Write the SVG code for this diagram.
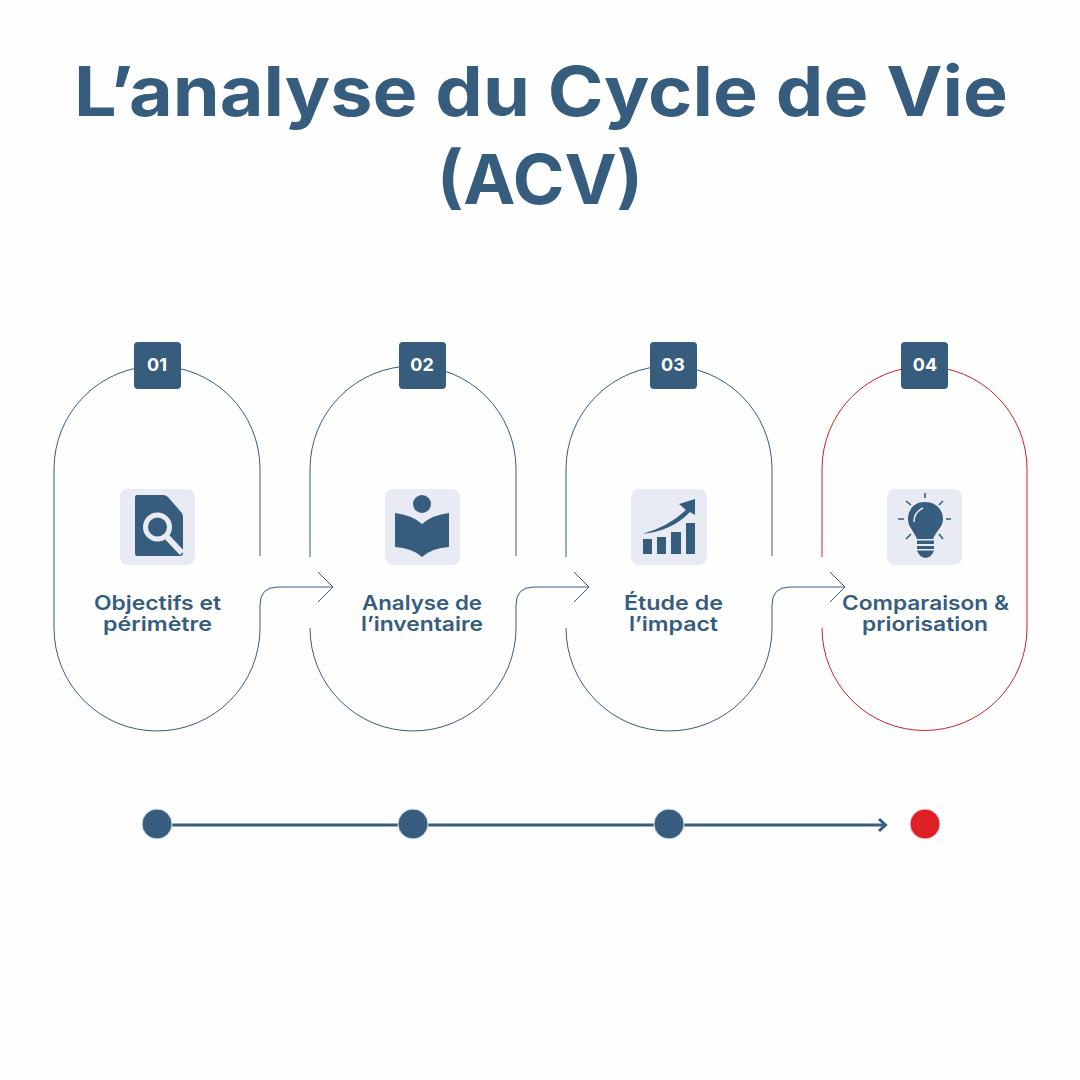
<svg xmlns="http://www.w3.org/2000/svg" width="1080" height="1080" viewBox="0 0 1080 1080">
<style>
text{font-family:"Inter","Liberation Sans",sans-serif;text-anchor:middle;fill:#365d7e}
.title{font-size:69px;font-weight:700}
.label{font-size:20px;font-weight:600}
.num{font-size:18px;font-weight:700;fill:#fff}
.badge{fill:#365d7e}
.tile{fill:#e8ebf4}
.ic{fill:#365d7e}
.line{fill:none;stroke:#365d7e;stroke-width:1}
.red{fill:none;stroke:#c8232c;stroke-width:1}
.ray{stroke:#365d7e;stroke-width:1.6;fill:none}
</style>
<rect width="1080" height="1080" fill="#fefefe"/>
<g id="title">
<text class="title" x="541" y="116" textLength="934" lengthAdjust="spacingAndGlyphs">L’analyse du Cycle de Vie</text>
<text class="title" x="540" y="204" textLength="206" lengthAdjust="spacingAndGlyphs">(ACV)</text>
</g>
<g id="connectors">
<path class="line" d="M260 556V469A103 103 0 0 0 54 469V628A103 103 0 0 0 260 628V605Q260 587 278 587H332M318 572L333 587L318 602"/>
<path class="line" d="M516 556V469A103 103 0 0 0 310 469V557M310 628A103 103 0 0 0 516 628V605Q516 587 534 587H588M574 572L589 587L574 602"/>
<path class="line" d="M772 556V469A103 103 0 0 0 566 469V557M566 628A103 103 0 0 0 772 628V605Q772 587 790 587H844M830 572L845 587L830 602"/>
<path class="red" d="M822 557V469A102.500 102.500 0 0 1 1027 469V628A102.500 102.500 0 0 1 822 628"/>
<path d="M157 825H885" stroke="#365d7e" stroke-width="3" fill="none"/>
<path d="M879 819L885.500 825L879 831" stroke="#365d7e" stroke-width="3" fill="none"/>
</g>
<g id="step1">
<rect class="badge" x="134" y="342" width="47" height="47" rx="4"/>
<text class="num" x="157" y="371">01</text>
<rect class="tile" x="120" y="489" width="75" height="76" rx="8"/>
<path class="ic" d="M137 495H163Q166 495 168 497L181 512Q183 514 183 517V553Q183 556 180 556H137Q135 556 135 553V498Q135 495 137 495Z"/>
<circle cx="157.500" cy="527" r="12" fill="#365d7e" stroke="#e8ebf4" stroke-width="5"/>
<path d="M167 537L182 553" stroke="#e8ebf4" stroke-width="6" fill="none"/>
<text class="label"><tspan x="157.500" y="610" textLength="127" lengthAdjust="spacingAndGlyphs">Objectifs et</tspan><tspan x="157.500" y="631" textLength="109" lengthAdjust="spacingAndGlyphs">périmètre</tspan></text>
</g>
<g id="step2">
<rect class="badge" x="399" y="342" width="47" height="47" rx="4"/>
<text class="num" x="422" y="371">02</text>
<rect class="tile" x="385" y="489" width="75" height="76" rx="8"/>
<circle class="ic" cx="422" cy="504" r="9"/>
<path class="ic" d="M395 513Q412 515 422 524Q432 515 449 513V547Q432 548 422 557Q412 548 395 547Z"/>
<text class="label"><tspan x="422" y="610" textLength="120" lengthAdjust="spacingAndGlyphs">Analyse de</tspan><tspan x="422" y="631" textLength="122" lengthAdjust="spacingAndGlyphs">l’inventaire</tspan></text>
</g>
<g id="step3">
<rect class="badge" x="650" y="342" width="47" height="47" rx="4"/>
<text class="num" x="673" y="371">03</text>
<rect class="tile" x="631" y="489" width="76" height="76" rx="8"/>
<path class="ic" d="M643 539V554H652V539ZM657 537V554H666V537ZM671 532V554H681V532ZM686 523V554H695V523Z"/>
<path class="ic" d="M642 534Q668 527 686 510L679 504L695 499L695 515L690 512Q672 531 642 534Z"/>
<text class="label"><tspan x="673.500" y="610" textLength="99" lengthAdjust="spacingAndGlyphs">Étude de</tspan><tspan x="673.500" y="631" textLength="89" lengthAdjust="spacingAndGlyphs">l’impact</tspan></text>
</g>
<g id="step4">
<rect class="badge" x="901" y="342" width="47" height="47" rx="4"/>
<text class="num" x="925" y="371">04</text>
<rect class="tile" x="887" y="489" width="75" height="76" rx="8"/>
<path class="ic" d="M925 502C913 502 908 511 908 519C908 527 914 531 917 539H933C936 531 943 527 943 519C943 511 937 502 925 502Z"/>
<path d="M914 522Q914 512 923 508" stroke="#e8ebf4" stroke-width="1.500" fill="none"/>
<path class="ic" d="M917 540.500H934V544H917ZM917 546H934V549H917ZM917 550.500H934Q932 557 925.500 558Q919 557 917 550.500Z"/>
<path class="ray" d="M925 493V498M906 501L911 505M943 501L939 505M898 519H904M946 519H951M906 539L911 534M943 539L939 534"/>
<text class="label"><tspan x="925.500" y="610" textLength="167" lengthAdjust="spacingAndGlyphs">Comparaison &amp;</tspan><tspan x="925" y="631" textLength="126" lengthAdjust="spacingAndGlyphs">priorisation</tspan></text>
</g>
<g id="timeline">
<circle cx="157" cy="824" r="15" fill="#365d7e" stroke="#d9e6f2" stroke-width="1"/>
<circle cx="413" cy="824" r="15" fill="#365d7e" stroke="#d9e6f2" stroke-width="1"/>
<circle cx="669" cy="824" r="15" fill="#365d7e" stroke="#d9e6f2" stroke-width="1"/>
<circle cx="925" cy="824" r="15" fill="#de1f26" stroke="#f8d0d2" stroke-width="1"/>
</g>
</svg>
